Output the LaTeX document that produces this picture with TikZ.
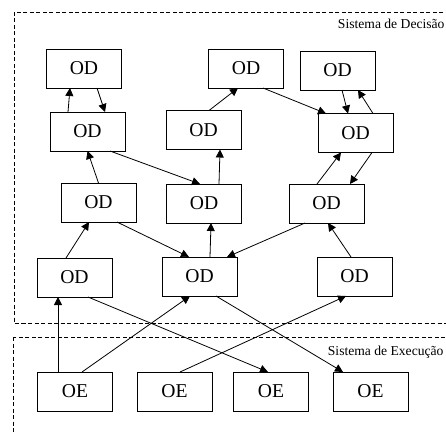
\documentclass[tikz,border=0pt]{standalone}
\usepackage{fontspec}
\setmainfont{Liberation Serif}
\usetikzlibrary{arrows.meta, positioning}

\begin{document}
\begin{tikzpicture}[
  x=1pt, y=-1pt,
  every node/.style={font=\fontsize{19.6}{22}\selectfont},
  obj/.style={draw, line width=0.9pt, minimum width=75pt, minimum height=39pt, inner sep=0pt, outer sep=0pt},
  area/.style={draw, line width=0.9pt, dash pattern=on 4pt off 2.5pt},
  areaname/.style={anchor=east, font=\fontsize{13.6}{15}\selectfont},
  conn/.style={-{Triangle[length=8pt, width=8pt]}, line width=0.8pt}
]
\useasboundingbox (0,0) rectangle (446,433);

% Areas
\draw[area] (14,12) rectangle (470,323);
\draw[area] (13,337) rectangle (470,460);
\node[areaname] (dec) at (448,24) {Sistema de Decisão};
\node[areaname] (exe) at (447,352) {Sistema de Execução};

% Decision objects
\node[obj] (a1) at (84,68.5) {OD};
\node[obj] (a2) at (246,68.5) {OD};
\node[obj] (a3) at (337.5,70.5) {OD};
\node[obj] (b1) at (87.5,131.5) {OD};
\node[obj] (b2) at (203.5,130) {OD};
\node[obj] (b3) at (355.5,133) {OD};
\node[obj] (c1) at (98.5,202.5) {OD};
\node[obj] (c2) at (204,203.5) {OD};
\node[obj] (c3) at (326.5,203.5) {OD};
\node[obj] (d1) at (74.5,277.5) {OD};
\node[obj] (d2) at (199.5,276.5) {OD};
\node[obj] (d3) at (354.5,276.5) {OD};

% Execution objects
\node[obj] (e1) at (75,391.5) {OE};
\node[obj] (e2) at (174.5,391.5) {OE};
\node[obj] (e3) at (271,391.5) {OE};
\node[obj] (e4) at (370.5,391.5) {OE};

% Connections
\draw[conn] ([xshift=-19.5pt]b1.north) -- ([xshift=-14pt]a1.south);
\draw[conn] ([xshift=13pt]a1.south) -- ([xshift=17.5pt]b1.north);
\draw[conn] ([xshift=5.5pt]b2.north) -- ([xshift=-8pt]a2.south);
\draw[conn] ([xshift=17pt]a2.south) -- ([xshift=-29.5pt]b3.north);
\draw[conn] ([xshift=4.5pt]a3.south) -- ([xshift=-7.5pt]b3.north);
\draw[conn] ([xshift=17.5pt]b3.north) -- ([xshift=20.5pt]a3.south);

\draw[conn] (c1.north) -- (b1.south);
\draw[conn] ([xshift=22.5pt]b1.south) -- ([xshift=-4pt]c2.north);
\draw[conn] ([xshift=15pt]c2.north) -- ([xshift=16.5pt]b2.south);
\draw[conn] ([xshift=-9.5pt]c3.north) -- ([xshift=-14.5pt]b3.south);
\draw[conn] ([xshift=16.5pt]b3.south) -- ([xshift=23.5pt]c3.north);

\draw[conn] ([xshift=-8.5pt]d1.north) -- ([xshift=-9.5pt]c1.south);
\draw[conn] ([xshift=18.5pt]c1.south) -- ([xshift=-10.5pt]d2.north);
\draw[conn] ([xshift=10.5pt]d2.north) -- ([xshift=7pt]c2.south);
\draw[conn] ([xshift=-21.5pt]c3.south) -- ([xshift=27.5pt]d2.north);
\draw[conn] ([xshift=-3.5pt]d3.north) -- ([xshift=1.5pt]c3.south);

\draw[conn] ([xshift=-17pt]e1.north) -- ([xshift=-16.5pt]d1.south);
\draw[conn] ([xshift=7pt]e1.north) -- ([xshift=-9.5pt]d2.south);
\draw[conn] ([xshift=13.5pt]d1.south) -- ([xshift=-3pt]e3.north);
\draw[conn] ([xshift=5.5pt]e2.north) -- ([xshift=-8.5pt]d3.south);
\draw[conn] ([xshift=16.5pt]d2.south) -- ([xshift=-27.5pt]e4.north);

\end{tikzpicture}
\end{document}
